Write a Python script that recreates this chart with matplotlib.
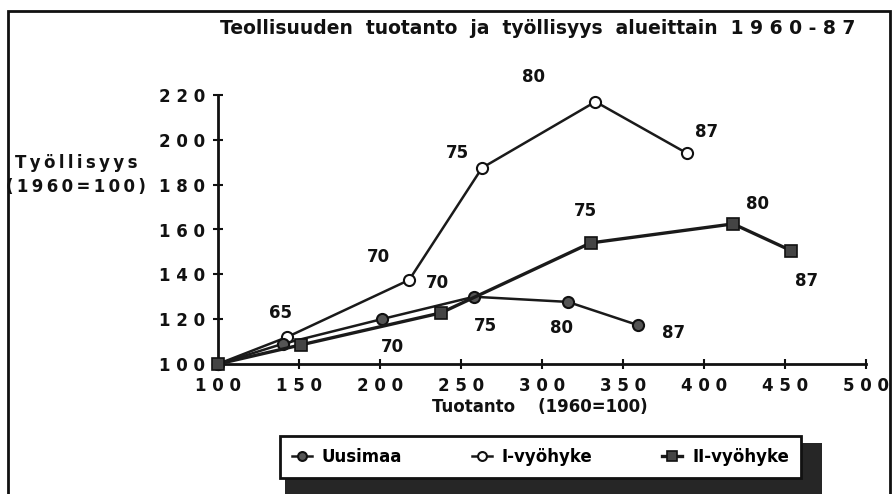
import matplotlib
matplotlib.use("Agg")
import matplotlib.pyplot as plt
from matplotlib.patches import Rectangle

plt.rcParams['font.family'] = ['DejaVu Sans']
plt.rcParams['font.weight'] = 'bold'

# ---- data ----
years = [60, 65, 70, 75, 80, 87]

uusimaa_x = [100, 140, 201, 258, 316, 359]
uusimaa_y = [100, 109, 120, 130, 127.7, 117.4]

zone1_x = [100, 142.6, 218, 263, 333, 389.5]
zone1_y = [100, 112, 137.5, 187.5, 217, 194]

zone2_x = [100, 151, 237.6, 330, 418, 454]
zone2_y = [100, 108.5, 122.8, 154, 162.5, 150.5]

series_names = ["Uusimaa", "I-vyöhyke", "II-vyöhyke"]

x_ticks = [100, 150, 200, 250, 300, 350, 400, 450, 500]
y_ticks = [100, 120, 140, 160, 180, 200, 220]

title = "Teollisuuden  tuotanto  ja  työllisyys  alueittain  1 9 6 0 - 8 7"
x_label = "Tuotanto    (1960=100)"
y_label_lines = ["Työllisyys", "(1960=100)"]

# label offsets (pixels) for year annotations, per series (skip first point)
off_u = [None, None, (11, -28), (11, -29), (-6, -26), (36, -8)]
off_1 = [None, (-7, 24), (-31, 23), (-25, 15), (-62, 25), (20, 21)]
off_2 = [None, None, (-3, 30), (-5, 32), (24, 20), (15, -30)]

W, H = 892, 494
fig = plt.figure(figsize=(W / 100, H / 100), dpi=100)
fig.patch.set_facecolor('white')

# outer frame
fig.patches.append(Rectangle((8 / W, -0.2), (890 - 8) / W, 1.2 - 11 / H,
                             transform=fig.transFigure, fill=False,
                             edgecolor='#111111', linewidth=2.0, zorder=1))

ax = fig.add_axes([218 / W, 1 - 364 / H, (866 - 218) / W, (364 - 95) / H])
ax.set_xlim(100, 500)
ax.set_ylim(100, 220)

lw = 1.8
ln_u, = ax.plot(uusimaa_x, uusimaa_y, color='#1a1a1a', lw=lw, marker='o',
                ms=8, mfc='#555555', mec='#111111', mew=1.5, clip_on=False, zorder=4)
ln_1, = ax.plot(zone1_x, zone1_y, color='#1a1a1a', lw=lw, marker='o',
                ms=8, mfc='white', mec='#111111', mew=1.5, clip_on=False, zorder=3)
ln_2, = ax.plot(zone2_x, zone2_y, color='#1a1a1a', lw=lw + 0.6, marker='s',
                ms=9, mfc='#444444', mec='#111111', mew=1.2, clip_on=False, zorder=5)

for xs, ys, offs in [(uusimaa_x, uusimaa_y, off_u), (zone1_x, zone1_y, off_1),
                     (zone2_x, zone2_y, off_2)]:
    for x, y, yr, o in zip(xs, ys, years, offs):
        if o is None:
            continue
        ax.annotate(str(yr), (x, y), xytext=o, textcoords='offset pixels',
                    ha='center', va='center', fontsize=12, fontweight='bold',
                    color='#111111')

for s in ['top', 'right']:
    ax.spines[s].set_visible(False)
for s in ['left', 'bottom']:
    ax.spines[s].set_linewidth(2.0)
    ax.spines[s].set_color('#111111')
    ax.spines[s].set_zorder(2)

ax.set_xticks(x_ticks)
ax.set_xticklabels([' '.join(str(v)) for v in x_ticks])
ax.set_yticks(y_ticks)
ax.set_yticklabels([' '.join(str(v)) for v in y_ticks])
ax.tick_params(axis='both', direction='inout', length=7, width=1.5,
               color='#111111', labelsize=12, labelcolor='#111111')
ax.tick_params(axis='x', pad=6)
ax.tick_params(axis='y', pad=6)
for lab in ax.get_xticklabels() + ax.get_yticklabels():
    lab.set_fontweight('bold')

fig.text(538 / W, 1 - 28 / H, title, ha='center', va='center', fontsize=13.5,
         fontweight='bold', color='#111111')
fig.text(540 / W, 1 - 407 / H, x_label, ha='center', va='center', fontsize=12,
         fontweight='bold', color='#111111')
thin = '\u2009'
y_label = '\n'.join(thin.join(s) for s in y_label_lines)
fig.text(76 / W, 1 - 175 / H, y_label, ha='center', va='center', fontsize=12,
         fontweight='bold', color='#111111', linespacing=1.4)

# legend shadow
fig.patches.append(Rectangle((285 / W, -0.1), (822 - 285) / W, 0.1 + 1 - 443 / H,
                             transform=fig.transFigure, facecolor='#262626',
                             edgecolor='none', zorder=5))

leg = fig.legend([ln_u, ln_1, ln_2], series_names, loc='center',
                 bbox_to_anchor=(272 / W, 1 - 481 / H, (809 - 272) / W, 48 / H),
                 mode='expand', ncol=3, frameon=True, fancybox=False,
                 edgecolor='#111111', framealpha=1, fontsize=12,
                 handlelength=1.2, handletextpad=0.6, columnspacing=1.0,
                 borderpad=0.7, markerscale=0.8)
leg.get_frame().set_linewidth(2.0)
leg.set_zorder(10)
for t in leg.get_texts():
    t.set_fontweight('bold')

fig.savefig('out.png', dpi=100)
